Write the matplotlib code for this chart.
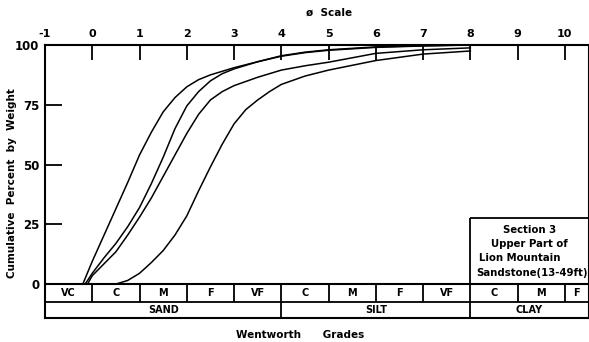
import matplotlib.pyplot as plt

# cumulative weight percent against phi size, four samples
phi_a = [-0.2, 0.0, 0.25, 0.5, 0.75, 1.0, 1.25, 1.5, 1.75, 2.0, 2.25, 2.5, 3.0, 3.5, 4.0, 4.5, 5.0, 6.0, 7.0, 8.0]
pct_a = [0, 9.5, 20.5, 31.5, 42.5, 54, 63.5, 72, 78, 82.5, 85.5, 87.5, 90.5, 93, 95.5, 97, 98, 99.2, 99.7, 100]

phi_b = [-0.15, 0.0, 0.25, 0.5, 0.75, 1.0, 1.25, 1.5, 1.75, 2.0, 2.25, 2.5, 2.75, 3.0, 3.5, 4.0, 4.5, 5.0, 6.0, 7.0, 8.0]
pct_b = [0, 4.5, 11, 17, 24, 32, 42, 53, 65, 74.5, 80.5, 85, 88, 90, 93, 95.3, 96.8, 97.8, 99, 99.6, 100]

phi_c = [-0.1, 0.0, 0.25, 0.5, 0.75, 1.0, 1.25, 1.5, 1.75, 2.0, 2.25, 2.5, 2.75, 3.0, 3.5, 4.0, 4.5, 5.0, 6.0, 7.0, 8.0]
pct_c = [0, 3.5, 8.5, 13.5, 20.5, 28, 36, 45, 54, 63, 71, 77, 80.5, 83, 86.5, 89.5, 91.3, 92.8, 96.5, 98, 98.8]

phi_d = [0.5, 0.75, 1.0, 1.25, 1.5, 1.75, 2.0, 2.25, 2.5, 2.75, 3.0, 3.25, 3.5, 3.75, 4.0, 4.5, 5.0, 5.5, 6.0, 7.0, 8.0]
pct_d = [0, 1.5, 4.5, 9, 14, 20.5, 28.5, 39, 49, 58.5, 67, 73, 77, 80.5, 83.5, 87, 89.5, 91.5, 93.5, 96.2, 97.5]

phi_ticks = list(range(-1, 11))
pct_ticks = [0, 25, 50, 75, 100]

# Wentworth grade scale under the plot
grade_edges = [-1, 0, 1, 2, 3, 4, 5, 6, 7, 8, 9, 10, 10.5]
grade_labels = ['VC', 'C', 'M', 'F', 'VF', 'C', 'M', 'F', 'VF', 'C', 'M', 'F']
class_edges = [-1, 4, 8, 10.5]
class_labels = ['SAND', 'SILT', 'CLAY']

note_lines = ['Section 3', 'Upper Part of', 'Lion Mountain', 'Sandstone(13-49ft)']

fig = plt.figure(figsize=(5.89, 3.42), dpi=100)
ax = fig.add_axes([45 / 589, 24 / 342, 543.5 / 589, 273 / 342])

for phi, pct in [(phi_a, pct_a), (phi_b, pct_b), (phi_c, pct_c), (phi_d, pct_d)]:
    ax.plot(phi, pct, color='black', lw=1.1)

ax.set_xlim(-1, 10.5)
ax.set_ylim(-14.2, 100)
for s in ax.spines.values():
    s.set_linewidth(1.5)

ax.xaxis.tick_top()
ax.set_xticks(phi_ticks)
ax.set_xticklabels([str(v) for v in phi_ticks])
ax.tick_params(axis='x', direction='in', length=11, width=1.3, pad=4, labelsize=8)
ax.set_yticks(pct_ticks)
ax.set_yticklabels([str(v) for v in pct_ticks])
ax.tick_params(axis='y', direction='in', length=12, width=1.3, pad=4, labelsize=8.5)
for lbl in ax.get_xticklabels() + ax.get_yticklabels():
    lbl.set_fontweight('bold')

# grade boxes
row1, row2 = -7.5, -14.2
ax.axhline(0, color='black', lw=1.5)
ax.axhline(row1, color='black', lw=1.3)
ax.vlines(grade_edges[1:-1], row1, 0, color='black', lw=1.3)
ax.vlines(class_edges[1:-1], row2, row1, color='black', lw=1.3)
for i, lab in enumerate(grade_labels):
    ax.text((grade_edges[i] + grade_edges[i + 1]) / 2, row1 / 2, lab,
            ha='center', va='center', fontsize=7, fontweight='bold')
for i, lab in enumerate(class_labels):
    ax.text((class_edges[i] + class_edges[i + 1]) / 2, (row1 + row2) / 2, lab,
            ha='center', va='center', fontsize=7, fontweight='bold')

# sample note box
ax.vlines(8, 0, 27.6, color='black', lw=1.3)
ax.hlines(27.6, 8, 10.5, color='black', lw=1.3)
note_x = [9.25, 9.25, 9.05, 9.3]
note_y = [22.6, 16.6, 11.0, 4.8]
for tx, ty, line in zip(note_x, note_y, note_lines):
    ax.text(tx, ty, line, ha='center', va='center', fontsize=7.3, fontweight='bold')

fig.text(329 / 589, 1 - 13 / 342, 'ø  Scale', ha='center', va='center',
         fontsize=7.5, fontweight='bold')
fig.text(12 / 589, 1 - 183 / 342, 'Cumulative  Percent  by  Weight', rotation=90,
         ha='center', va='center', fontsize=7.5, fontweight='bold')
fig.text(300 / 589, 1 - 335 / 342, 'Wentworth      Grades', ha='center', va='center',
         fontsize=7.5, fontweight='bold')

fig.savefig('out.png', dpi=100)
